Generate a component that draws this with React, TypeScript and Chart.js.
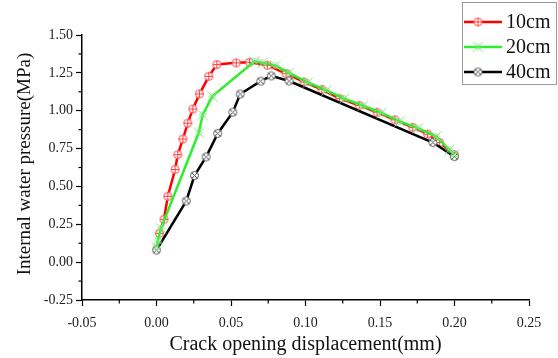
import React, { useEffect, useRef } from "react";
import { Chart, registerables } from "chart.js";

Chart.register(...registerables);

const seriesLabels = ["10cm", "20cm", "40cm"];

const x10 = [0.002, 0.005, 0.0076, 0.0125, 0.0143, 0.0177, 0.021, 0.0244, 0.0289, 0.0351, 0.0405, 0.0535, 0.0624, 0.0745, 0.087, 0.099, 0.111, 0.123, 0.136, 0.148, 0.16, 0.172, 0.182, 0.19, 0.2];
const y10 = [0.19, 0.283, 0.435, 0.612, 0.71, 0.813, 0.918, 1.011, 1.111, 1.227, 1.305, 1.316, 1.32, 1.3, 1.245, 1.19, 1.14, 1.08, 1.035, 0.99, 0.94, 0.89, 0.845, 0.79, 0.71];

const x20 = [0.0, 0.001, 0.003, 0.0284, 0.031, 0.0374, 0.0658, 0.0713, 0.08, 0.0888, 0.1016, 0.114, 0.126, 0.1385, 0.151, 0.163, 0.1754, 0.1877, 0.1966, 0.2];
const y20 = [0.1, 0.146, 0.223, 0.856, 0.973, 1.095, 1.326, 1.316, 1.298, 1.25, 1.187, 1.134, 1.08, 1.033, 0.985, 0.929, 0.885, 0.83, 0.742, 0.71];

const x40 = [0.0, 0.02, 0.0255, 0.0333, 0.0411, 0.0512, 0.0562, 0.07, 0.077, 0.089, 0.1855, 0.2];
const y40 = [0.08, 0.404, 0.572, 0.695, 0.85, 0.99, 1.11, 1.195, 1.23, 1.196, 0.79, 0.697];

const xTickValues = [-0.05, 0.0, 0.05, 0.1, 0.15, 0.2, 0.25];
const yTickValues = [-0.25, 0.0, 0.25, 0.5, 0.75, 1.0, 1.25, 1.5];

const xTitle = "Crack opening displacement(mm)";
const yTitle = "Internal water pressure(MPa)";

const colors = ["#ff0000", "#2cef2c", "#000000"];
const drawOrder = [2, 0, 1];
const SERIF = "'Liberation Serif', 'Times New Roman', serif";

function makeMarker(kind: number): HTMLCanvasElement {
  const c = document.createElement("canvas");
  const s = 13;
  c.width = s;
  c.height = s;
  const g = c.getContext("2d")!;
  const m = s / 2;
  if (kind === 0) {
    g.beginPath();
    g.arc(m, m, 4, 0, Math.PI * 2);
    g.fillStyle = "#fff";
    g.fill();
    g.strokeStyle = "#ff4040";
    g.lineWidth = 1;
    g.stroke();
    g.beginPath();
    g.moveTo(m - 4, m);
    g.lineTo(m + 4, m);
    g.moveTo(m, m - 4);
    g.lineTo(m, m + 4);
    g.stroke();
  } else if (kind === 1) {
    g.strokeStyle = "#86e086";
    g.lineWidth = 1;
    g.beginPath();
    g.moveTo(m - 5, m - 5);
    g.lineTo(m + 5, m + 5);
    g.moveTo(m + 5, m - 5);
    g.lineTo(m - 5, m + 5);
    g.stroke();
    g.beginPath();
    g.moveTo(m, m - 3.5);
    g.lineTo(m + 3.5, m);
    g.lineTo(m, m + 3.5);
    g.lineTo(m - 3.5, m);
    g.closePath();
    g.stroke();
  } else {
    g.beginPath();
    g.arc(m, m, 4, 0, Math.PI * 2);
    g.fillStyle = "#fff";
    g.fill();
    g.strokeStyle = "#555";
    g.lineWidth = 1;
    g.stroke();
    g.beginPath();
    const d = 2.8;
    g.moveTo(m - d, m - d);
    g.lineTo(m + d, m + d);
    g.moveTo(m + d, m - d);
    g.lineTo(m - d, m + d);
    g.stroke();
  }
  return c;
}

export default function App() {
  const ref = useRef<HTMLCanvasElement>(null);
  useEffect(() => {
    const markers = [makeMarker(0), makeMarker(1), makeMarker(2)];
    const xs = [x10, x20, x40];
    const ys = [y10, y20, y40];
    const datasets = seriesLabels.map((label, i) => ({
      label,
      data: xs[i].map((x, j) => ({ x, y: ys[i][j] })),
      borderColor: colors[i],
      backgroundColor: colors[i],
      borderWidth: 2.5,
      pointStyle: markers[i] as any,
      pointRadius: 5,
      showLine: true,
      tension: 0,
      order: drawOrder[i],
    }));

    const extras = {
      id: "extras",
      afterDraw(chart: any) {
        const ctx = chart.ctx;
        const xs_ = chart.scales.x;
        const ys_ = chart.scales.y;
        const area = chart.chartArea;
        ctx.save();
        ctx.strokeStyle = "#000";
        ctx.lineWidth = 1.2;
        for (let i = 0; i < xTickValues.length - 1; i++) {
          const v = (xTickValues[i] + xTickValues[i + 1]) / 2;
          const px = xs_.getPixelForValue(v);
          ctx.beginPath();
          ctx.moveTo(px, area.bottom);
          ctx.lineTo(px, area.bottom + 3.5);
          ctx.stroke();
        }
        for (let i = 0; i < yTickValues.length - 1; i++) {
          const v = (yTickValues[i] + yTickValues[i + 1]) / 2;
          const py = ys_.getPixelForValue(v);
          ctx.beginPath();
          ctx.moveTo(area.left, py);
          ctx.lineTo(area.left - 3.5, py);
          ctx.stroke();
        }
        ctx.fillStyle = "#111";
        ctx.textAlign = "center";
        ctx.textBaseline = "middle";
        ctx.font = "20px " + SERIF;
        ctx.fillText(xTitle, (area.left + area.right) / 2, 345);
        ctx.save();
        ctx.translate(25, 164);
        ctx.rotate(-Math.PI / 2);
        ctx.font = "19px " + SERIF;
        ctx.fillText(yTitle, 0, 0);
        ctx.restore();
        const bx = 462, by = 2, bw = 94, bh = 82;
        ctx.fillStyle = "#fff";
        ctx.fillRect(bx, by, bw, bh);
        ctx.strokeStyle = "#999";
        ctx.lineWidth = 1;
        ctx.strokeRect(bx + 0.5, by + 0.5, bw, bh);
        ctx.font = "20px " + SERIF;
        ctx.textAlign = "left";
        ctx.textBaseline = "middle";
        const rows = [22, 47, 72];
        seriesLabels.forEach((lab, i) => {
          const yy = rows[i];
          ctx.strokeStyle = colors[i];
          ctx.lineWidth = 2.5;
          ctx.beginPath();
          ctx.moveTo(464, yy);
          ctx.lineTo(502, yy);
          ctx.stroke();
          ctx.drawImage(markers[i], 478 - 6.5, yy - 6.5);
          ctx.fillStyle = "#111";
          ctx.fillText(lab, 506, yy + 1);
        });
        ctx.restore();
      },
    };

    const fmt = (v: any) => {
      const n = Number(v);
      return Math.abs(n) < 1e-9 ? "0.00" : n.toFixed(2);
    };

    const chart = new Chart(ref.current!, {
      type: "scatter",
      data: { datasets: datasets as any },
      plugins: [extras],
      options: {
        animation: false,
        responsive: true,
        maintainAspectRatio: false,
        layout: { padding: { top: 35, right: 29, left: 0, bottom: 0 } },
        plugins: { legend: { display: false }, tooltip: { enabled: false } },
        scales: {
          x: {
            type: "linear",
            min: -0.05,
            max: 0.25,
            afterBuildTicks: (s: any) => {
              s.ticks = xTickValues.map((v) => ({ value: v }));
            },
            afterFit: (s: any) => {
              s.height = 58;
            },
            ticks: {
              callback: fmt,
              font: { family: SERIF, size: 14 },
              color: "#222",
              padding: 9,
              maxRotation: 0,
              autoSkip: false,
            },
            grid: { drawOnChartArea: false, drawTicks: true, tickLength: 6, tickColor: "#000", tickWidth: 1.2 },
            border: { display: true, color: "#000", width: 1.5 },
          },
          y: {
            type: "linear",
            min: -0.25,
            max: 1.5,
            afterBuildTicks: (s: any) => {
              s.ticks = yTickValues.map((v) => ({ value: v }));
            },
            afterFit: (s: any) => {
              s.width = 82;
            },
            ticks: {
              callback: fmt,
              font: { family: SERIF, size: 14 },
              color: "#222",
              padding: 3,
              autoSkip: false,
            },
            grid: { drawOnChartArea: false, drawTicks: true, tickLength: 6, tickColor: "#000", tickWidth: 1.2 },
            border: { display: true, color: "#000", width: 1.5 },
          },
        },
      },
    });
    return () => chart.destroy();
  }, []);

  return (
    <div style={{ position: "fixed", left: 0, top: 0, width: 558, height: 358, background: "#fff" }}>
      <canvas ref={ref} />
    </div>
  );
}
